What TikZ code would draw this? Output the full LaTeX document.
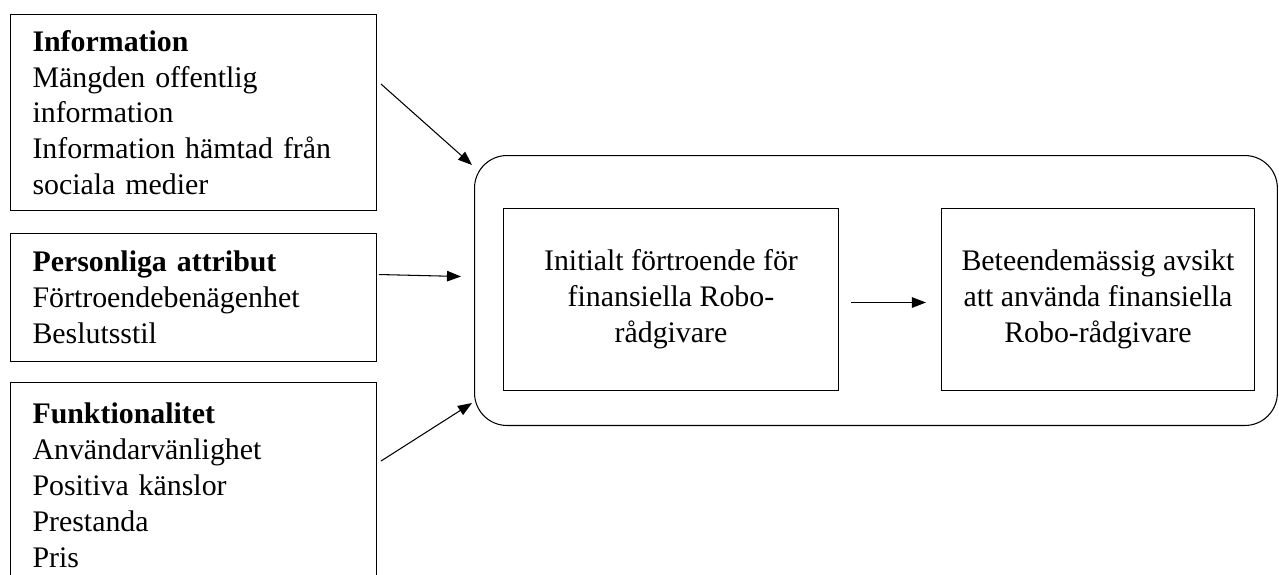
\documentclass[tikz,border=0pt]{standalone}
\usepackage{fontspec}
\setmainfont{Liberation Serif}
\usetikzlibrary{arrows.meta,positioning,calc}

\begin{document}
\begin{tikzpicture}[x=0.02cm,y=-0.02cm,>={Triangle[length=8pt,width=6pt]},line width=0.6pt,
  font=\fontsize{17}{20.4}\selectfont]
\tikzset{factor/.style={draw,align=left,text width=6.44cm,inner xsep=0.44cm,inner ysep=0pt,minimum width=7.32cm},
  stage/.style={draw,align=center,inner sep=0pt,minimum height=3.64cm}}
\useasboundingbox (0,0) rectangle (1279,575);
\clip (0,0) rectangle (1279,575);
\node[factor,minimum height=3.92cm,anchor=north west] (info) at (10,14) {\textbf{Information}\\Mängden offentlig\\information\\Information hämtad från\\sociala medier};
\node[factor,minimum height=2.56cm,below right=0.44cm and 0cm of info.south west] (pers) {\textbf{Personliga attribut}\\Förtroendebenägenhet\\Beslutsstil};
\node[factor,minimum height=4.11cm,below right=0.4cm and 0cm of pers.south west] (func) {\textbf{Funktionalitet}\\Användarvänlighet\\Positiva känslor\\Prestanda\\Pris};
\node[draw,rounded corners=0.65cm,minimum width=16.06cm,minimum height=5.4cm,anchor=north west] (group) at (474,155) {};
\node[stage,minimum width=6.7cm,anchor=north west] (trust) at ($(group.north west)+(29,53)$) {Initialt förtroende för\\finansiella Robo-\\rådgivare};
\node[stage,minimum width=6.26cm,right=2.04cm of trust] (intent) {Beteendemässig avsikt\\att använda finansiella\\Robo-rådgivare};
\draw[->] ($(info.north east)+(4,70)$) -- ($(group.north west)+(-2,10)$);
\draw[->] ($(pers.east)+(2,-23)$) -- ($(group.west)+(-13,-14)$);
\draw[->] ($(func.north east)+(4,79)$) -- ($(group.south west)+(-2,-23)$);
\draw[->] ($(trust.east)+(12,3)$) -- ($(intent.west)+(-15,3)$);
\end{tikzpicture}
\end{document}
